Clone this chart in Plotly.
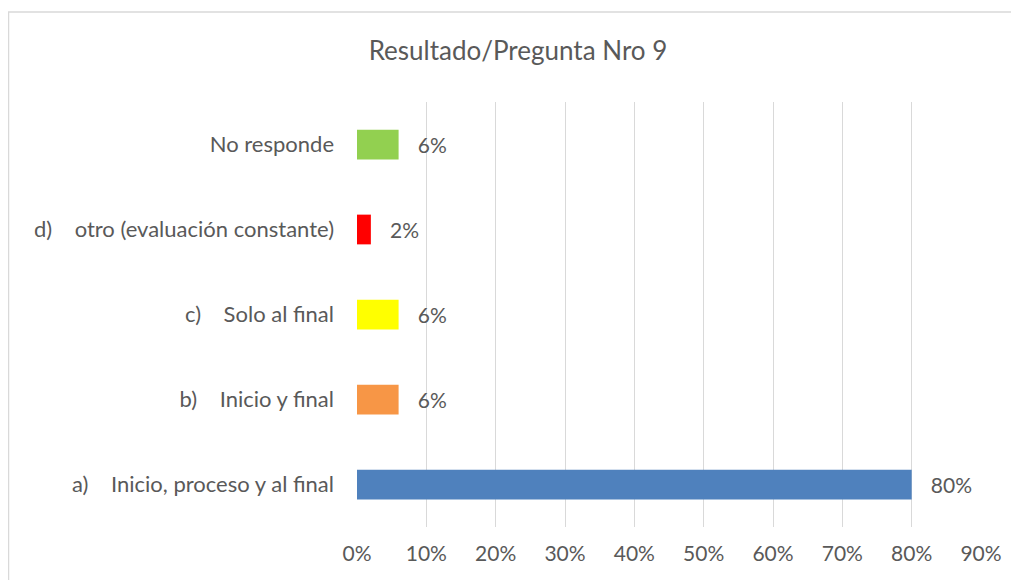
import plotly.graph_objects as go

categories = [
    "a)\u00a0\u00a0\u00a0\u00a0Inicio, proceso y al final",
    "b)\u00a0\u00a0\u00a0\u00a0Inicio y final",
    "c)\u00a0\u00a0\u00a0\u00a0Solo al final",
    "d)\u00a0\u00a0\u00a0\u00a0otro (evaluación constante)",
    "No responde",
]
values = [0.80, 0.06, 0.06, 0.02, 0.06]
labels = ["80%", "6%", "6%", "2%", "6%"]
colors = ["#4F81BD", "#F79646", "#FFFF00", "#FF0000", "#92D050"]
tick_vals = [0, 0.1, 0.2, 0.3, 0.4, 0.5, 0.6, 0.7, 0.8, 0.9]
tick_text = ["0%", "10%", "20%", "30%", "40%", "50%", "60%", "70%", "80%", "90%"]

FONT = "Lato, Open Sans, sans-serif"
GRAY = "#595959"
OFF = 8  # page body margin offset
W, H = 1019 - OFF, 580 - OFF
L, T, PW, PH = 357 - OFF, 102 - OFF, 624, 425

fig = go.Figure(go.Bar(
    y=categories, x=values, orientation="h",
    marker=dict(color=colors, line=dict(width=0)),
    width=0.35,
    text=["\u00a0\u00a0\u00a0" + t for t in labels], textposition="outside",
    textfont=dict(family=FONT, size=21, color=GRAY),
    cliponaxis=False,
))

fig.update_layout(
    width=W, height=H,
    margin=dict(l=L, r=W - L - PW, t=T, b=H - T - PH),
    paper_bgcolor="white", plot_bgcolor="white",
    showlegend=False,
    title=dict(text="Resultado/Pregunta Nro 9", x=(518 - OFF) / W, xanchor="center",
               y=1 - (51 - OFF) / H, yanchor="middle",
               font=dict(family=FONT, size=26, color=GRAY)),
    xaxis=dict(range=[0, 0.9], tickvals=tick_vals, ticktext=tick_text,
               showgrid=True, gridcolor="#D9D9D9", gridwidth=1,
               zeroline=False, showline=False, ticks="", ticklabelstandoff=12,
               tickfont=dict(family=FONT, size=21, color=GRAY)),
    yaxis=dict(showgrid=False, zeroline=False, ticks="", ticklabelstandoff=22,
               tickfont=dict(family=FONT, size=22, color=GRAY)),
    shapes=[dict(type="rect", xref="paper", yref="paper",
                 x0=(0.5 - L) / PW, x1=1.2, y0=-0.3, y1=(T + PH - 4) / PH,
                 line=dict(color="#D9D9D9", width=1.5), layer="below")],
    bargap=0.65,
)

fig.write_html("out.html")
